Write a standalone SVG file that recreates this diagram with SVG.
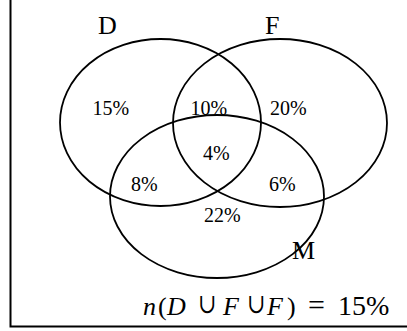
<svg xmlns="http://www.w3.org/2000/svg" width="407" height="331" viewBox="0 0 407 331">
<style>
.set{fill:none;stroke:#000;stroke-width:1.8}
.lbl{font-family:"Liberation Serif","DejaVu Serif",serif;font-size:26px;fill:#000}
.pct{font-family:"Liberation Serif","DejaVu Serif",serif;font-size:20px;fill:#000}
.fm{font-family:"Liberation Serif","DejaVu Serif",serif;font-size:26px;fill:#000}
.cup{font-family:"DejaVu Serif","DejaVu Sans",serif;font-size:22px;fill:#000}
.it{font-style:italic}
</style>
<rect width="407" height="331" fill="#fff"/>
<path d="M10.5,0 V326.5 H407" fill="none" stroke="#000" stroke-width="2"/>
<g id="setD">
<ellipse class="set" cx="160.5" cy="122.5" rx="100.5" ry="83.5"/>
<text class="lbl" x="98" y="34">D</text>
</g>
<g id="setF">
<ellipse class="set" cx="280" cy="123" rx="107" ry="84"/>
<text class="lbl" x="265" y="34">F</text>
</g>
<g id="setM">
<ellipse class="set" cx="217" cy="196.5" rx="107" ry="81.5"/>
<text class="lbl" x="292" y="259">M</text>
</g>
<g id="regions">
<text class="pct" x="92.5" y="114.5">15%</text>
<text class="pct" x="190.5" y="114.5">10%</text>
<text class="pct" x="270" y="114.5">20%</text>
<text class="pct" x="203" y="160">4%</text>
<text class="pct" x="131" y="191">8%</text>
<text class="pct" x="269" y="191">6%</text>
<text class="pct" x="204" y="221.5">22%</text>
</g>
<g id="formula">
<text class="fm" y="315"><tspan class="it" x="143">n</tspan><tspan x="158">(</tspan><tspan class="it" x="167">D</tspan></text>
<text class="cup" x="198" y="313" transform="translate(206 313) scale(1 1.25) translate(-206 -313)">∪</text>
<text class="fm it" x="223" y="315">F</text>
<text class="cup" x="247" y="313" transform="translate(255 313) scale(1 1.25) translate(-255 -313)">∪</text>
<text class="fm" y="315"><tspan class="it" x="267">F</tspan><tspan x="287">)</tspan><tspan x="308" font-size="30">=</tspan><tspan x="338" font-size="28">15%</tspan></text>
</g>
</svg>
